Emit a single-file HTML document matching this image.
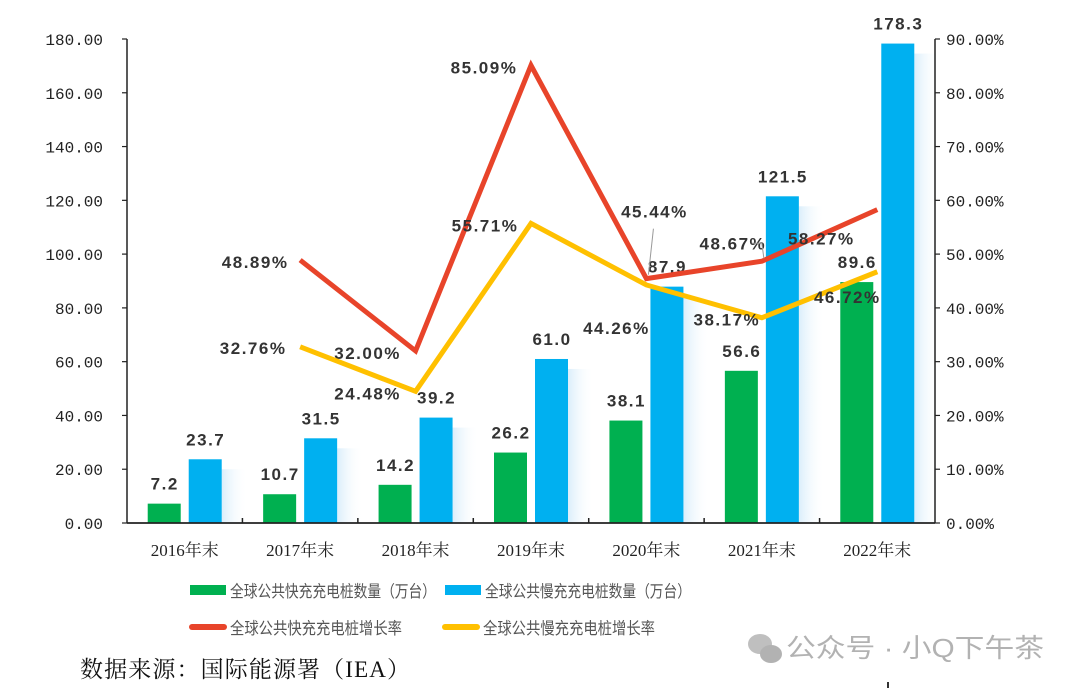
<!DOCTYPE html>
<html><head><meta charset="utf-8"><style>
html,body{margin:0;padding:0;background:#fff;}
svg{display:block;font-family:"Liberation Sans","Noto Sans CJK SC",sans-serif;}
.tick{font-family:"Liberation Mono","Noto Sans CJK SC",monospace;font-size:16px;fill:#222;}
.val{font-family:"Liberation Sans","Noto Sans CJK SC",sans-serif;font-size:17px;font-weight:bold;fill:#333;letter-spacing:1.5px;}
.cat{font-family:"Liberation Serif","Noto Serif CJK SC",serif;font-size:17px;fill:#222;}
.leg{font-family:"Liberation Sans","Noto Sans CJK SC",sans-serif;font-size:16.5px;fill:#555;}
</style></head><body>
<svg id="chart" width="1080" height="688" viewBox="0 0 1080 688"></svg>
<script>
const categories=["2016年末","2017年末","2018年末","2019年末","2020年末","2021年末","2022年末"];
const fastCount=[7.2,10.7,14.2,26.2,38.1,56.6,89.6];
const slowCount=[23.7,31.5,39.2,61.0,87.9,121.5,178.3];
const fastGrowth=[null,48.89,32.00,85.09,45.44,48.67,58.27];
const slowGrowth=[null,32.76,24.48,55.71,44.26,38.17,46.72];
const leftTicks=[0,20,40,60,80,100,120,140,160,180];
const rightTicks=[0,10,20,30,40,50,60,70,80,90];
const fastLabelOff=[null,[-45,8],[-48,8],[-47,8],[8,-61],[-29,-12],[-56,35]];
const slowLabelOff=[null,[-47,7],[-48,8],[-46,8],[-30,49],[-35,8],[-30,31]];

const NS="http://www.w3.org/2000/svg";
const svg=document.getElementById('chart');
const X0=127,X1=935,Y0=523,Y1=39;
const band=(X1-X0)/categories.length;
const cx=i=>X0+band*(i+0.5);
const yL=v=>Y0-(v/180)*(Y0-Y1);
const yR=v=>Y0-(v/90)*(Y0-Y1);
function el(tag,attrs,parent){const e=document.createElementNS(NS,tag);for(const k in attrs)e.setAttribute(k,attrs[k]);(parent||svg).appendChild(e);return e;}
function txt(s,attrs,parent){const e=el('text',attrs,parent);e.textContent=s;return e;}

const defs=el('defs',{});
const g=el('linearGradient',{id:'shade',x1:'0',x2:'1',y1:'0',y2:'0'},defs);
el('stop',{offset:'0','stop-color':'#d6ecfa','stop-opacity':'0.9'},g);
el('stop',{offset:'1','stop-color':'#ffffff','stop-opacity':'0'},g);

categories.forEach((c,i)=>{
  const c0=cx(i);
  const s=el('rect',{x:c0+37,y:yL(slowCount[i])+10,width:26,height:Y0-yL(slowCount[i])-10,fill:'url(#shade)'});
  
  
  const gr=el('rect',{x:c0-37,y:yL(fastCount[i]),width:33,height:Y0-yL(fastCount[i]),fill:'#00b050'});
  
  
  const bl=el('rect',{x:c0+4,y:yL(slowCount[i]),width:33,height:Y0-yL(slowCount[i]),fill:'#00b0f0'});
  
  
  const fl=txt(fastCount[i].toFixed(1),{class:'val',x:c0-20,y:yL(fastCount[i])-14,'text-anchor':'middle'});
  
  
  const sl=txt(slowCount[i].toFixed(1),{class:'val',x:c0+21,y:yL(slowCount[i])-14,'text-anchor':'middle'});
  
  
  const cl=txt(c,{class:'cat',x:c0,y:556,'text-anchor':'middle'});
  
  
  if(i>0){el('line',{x1:X0+band*i,x2:X0+band*i,y1:Y0,y2:Y0-5,stroke:'#222','stroke-width':1.5});}
});

el('line',{x1:X0,x2:X0,y1:Y1,y2:Y0,stroke:'#222','stroke-width':1.5});
el('line',{x1:X1,x2:X1,y1:Y1,y2:Y0,stroke:'#222','stroke-width':1.5});
el('line',{x1:X0,x2:X1,y1:Y0,y2:Y0,stroke:'#222','stroke-width':1.8});
leftTicks.forEach(v=>{
  el('line',{x1:X0-5,x2:X0,y1:yL(v),y2:yL(v),stroke:'#222','stroke-width':1.2});
  const t=txt(v.toFixed(2),{class:'tick',x:103,y:yL(v)+6,'text-anchor':'end'});
  
  
});
rightTicks.forEach(v=>{
  el('line',{x1:X1,x2:X1+5,y1:yR(v),y2:yR(v),stroke:'#222','stroke-width':1.2});
  const t=txt(v.toFixed(2)+'%',{class:'tick',x:946,y:yR(v)+6});
  
  
});

function line(data,color,name,offs){
  let d='';
  data.forEach((v,i)=>{if(v==null)return;d+=(d?'L':'M')+cx(i)+','+yR(v);});
  const p=el('path',{d:d,fill:'none',stroke:color,'stroke-width':5,'stroke-linejoin':'miter'});
  
  
  data.forEach((v,i)=>{if(v==null)return;
    const o=offs[i];
    const t=txt(v.toFixed(2)+'%',{class:'val',x:cx(i)+o[0],y:yR(v)+o[1],'text-anchor':'middle'});
    
    
  });
}
line(fastGrowth,'#e8442a','fast-growth-line',fastLabelOff);
line(slowGrowth,'#ffc000','slow-growth-line',slowLabelOff);
el('polyline',{points:(cx(4)+2)+','+(yR(fastGrowth[4])-4)+' '+(cx(4)+7)+','+(yR(fastGrowth[4])-50),fill:'none',stroke:'#999','stroke-width':1});
el('polyline',{points:(cx(5)+2)+','+(yR(fastGrowth[5])-3)+' '+(cx(5))+','+(yR(fastGrowth[5])-18)+' '+(cx(5)-10)+','+(yR(fastGrowth[5])-18),fill:'none',stroke:'#999','stroke-width':1});

const leg=[[190,590,'#00b050','全球公共快充充电桩数量（万台）','rect'],[445,590,'#00b0f0','全球公共慢充充电桩数量（万台）','rect'],
[190,627,'#e8442a','全球公共快充充电桩增长率','line'],[443,627,'#ffc000','全球公共慢充充电桩增长率','line']];
leg.forEach(l=>{
  const gg=el('g',{});
  
  
  if(l[4]=='rect')el('rect',{x:l[0],y:l[1]-5,width:36,height:10,fill:l[2]},gg);
  else el('line',{x1:l[0]+2,x2:l[0]+34,y1:l[1],y2:l[1],stroke:l[2],'stroke-width':6,'stroke-linecap':'round'},gg);
  txt(l[3],{class:'leg',x:l[0]+40,y:l[1]+7,textLength:l[4]=='rect'?206:172,lengthAdjust:'spacingAndGlyphs'},gg);
});
const src=txt('数据来源：国际能源署（IEA）',{x:80,y:677,'font-size':23,fill:'#111','font-family':'"Liberation Serif","Noto Serif CJK SC",serif',textLength:330});


const wm=el('g',{opacity:0.75});


el('ellipse',{cx:760,cy:644,rx:12,ry:10,fill:'#aaa'},wm);
el('ellipse',{cx:771,cy:654,rx:11,ry:9,fill:'#999'},wm);
txt('公众号 · 小Q下午茶',{x:786,y:657,'font-size':26,fill:'#999',textLength:258,lengthAdjust:'spacingAndGlyphs'},wm);
el('line',{x1:888,x2:888,y1:682,y2:688,stroke:'#333','stroke-width':2});
</script>
</body></html>
